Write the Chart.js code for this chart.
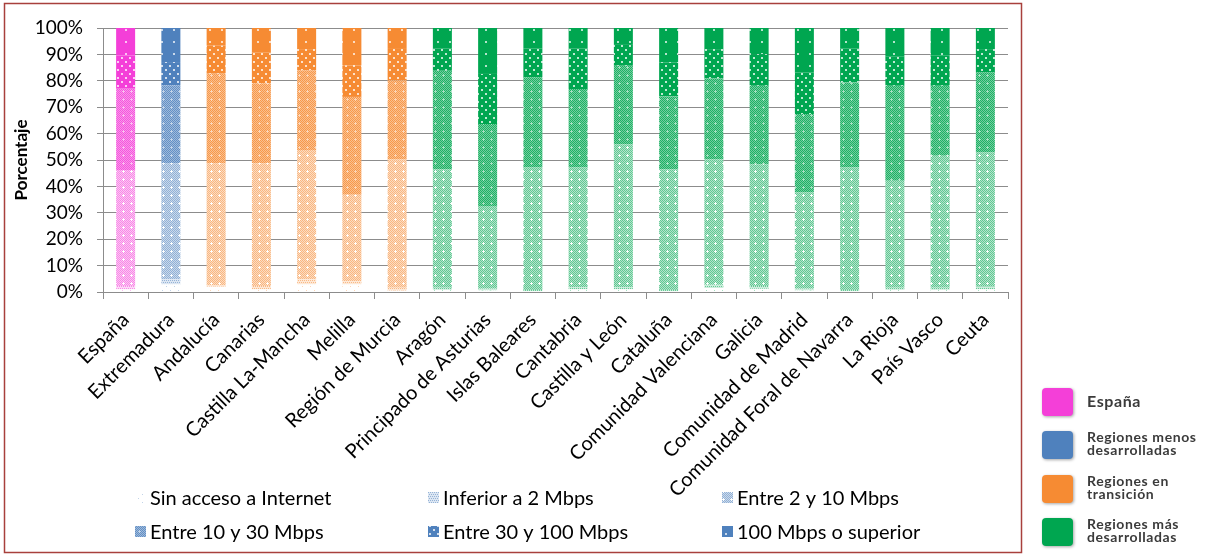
<!DOCTYPE html>
<html lang="es">
<head>
<meta charset="UTF-8">
<title>Velocidad de acceso a Internet por región</title>
<script src="https://cdn.jsdelivr.net/npm/chart.js"></script>
<style>
  html, body { margin: 0; padding: 0; background: #fff; }
  #wrap { position: relative; width: 1225px; height: 559px; }
</style>
</head>
<body>
<div id="wrap"><canvas id="chart" width="1225" height="559"></canvas></div>
<script>
  // categorías (eje X) y grupo de región de cada una
  const categories = ['España', 'Extremadura', 'Andalucía', 'Canarias', 'Castilla La-Mancha', 'Melilla',
    'Región de Murcia', 'Aragón', 'Principado de Asturias', 'Islas Baleares', 'Cantabria', 'Castilla y León',
    'Cataluña', 'Comunidad Valenciana', 'Galicia', 'Comunidad de Madrid', 'Comunidad Foral de Navarra',
    'La Rioja', 'País Vasco', 'Ceuta'];
  const regionGroup = ['es', 'menos', 'trans', 'trans', 'trans', 'trans', 'trans', 'mas', 'mas', 'mas',
    'mas', 'mas', 'mas', 'mas', 'mas', 'mas', 'mas', 'mas', 'mas', 'mas'];

  // porcentajes (de abajo a arriba en cada barra)
  const sinAcceso   = [1.0, 2.9, 2.0, 1.0, 2.9, 2.9, 0.5, 0.8, 0.6, 0.3, 1.0, 1.0, 0.3, 1.5, 1.2, 0.6, 0.3, 0.8, 0.8, 1.0];
  const inferior2   = [1.3, 1.9, 0.5, 1.3, 1.9, 1.2, 1.1, 0.8, 0.7, 0.5, 0.9, 0.9, 0.5, 1.2, 1.1, 0.7, 0.5, 0.8, 0.8, 1.0];
  const entre2y10   = [43.9, 43.9, 46.2, 46.4, 49.0, 32.7, 48.6, 44.9, 31.3, 46.4, 45.3, 54.1, 45.7, 47.6, 46.1, 36.4, 46.4, 40.5, 50.0, 50.8];
  const entre10y30  = [30.8, 29.6, 34.0, 30.4, 30.2, 37.1, 30.0, 37.3, 31.0, 34.1, 29.7, 29.7, 27.6, 30.6, 29.7, 29.7, 32.2, 36.0, 26.5, 30.4];
  const entre30y100 = [12.6, 8.8, 10.6, 11.7, 8.0, 11.9, 12.2, 8.5, 19.0, 11.0, 15.4, 8.2, 12.9, 11.1, 12.0, 15.8, 12.9, 11.2, 11.4, 8.8];
  const superior100 = [10.4, 12.9, 6.7, 9.2, 8.0, 14.2, 7.6, 7.7, 17.4, 7.7, 7.7, 6.1, 13.0, 8.0, 9.9, 16.8, 7.7, 10.7, 10.5, 8.0];

  const seriesLabels = ['Sin acceso a Internet', 'Inferior a 2 Mbps', 'Entre 2 y 10 Mbps',
    'Entre 10 y 30 Mbps', 'Entre 30 y 100 Mbps', '100 Mbps o superior'];
  const yTicks = [0, 10, 20, 30, 40, 50, 60, 70, 80, 90, 100];

  const groupColors = { es: '#F43FD8', menos: '#4F81BD', trans: '#F68B33', mas: '#00A650' };
  const groupLabels = [['España'], ['Regiones menos', 'desarrolladas'], ['Regiones en', 'transición'], ['Regiones más', 'desarrolladas']];

  const canvas = document.getElementById('chart');
  const ctx = canvas.getContext('2d');

  // mezcla un color con blanco: f = parte de color
  function tint(hex, f) {
    const n = parseInt(hex.slice(1), 16);
    const m = c => Math.round(255 - (255 - c) * f);
    return `rgb(${m(n >> 16 & 255)},${m(n >> 8 & 255)},${m(n & 255)})`;
  }

  // texturas tipo Excel para cada serie
  function makePattern(hex, kind) {
    const t = document.createElement('canvas');
    const size = kind === 5 ? 12 : 8;
    t.width = t.height = size;
    const g = t.getContext('2d');
    if (kind === 0) {
      g.fillStyle = '#fff'; g.fillRect(0, 0, size, size);
      g.fillStyle = tint(hex, 0.35); g.fillRect(2, 2, 1, 1); g.fillRect(6, 6, 1, 1);
    } else if (kind === 1) {
      g.fillStyle = tint(hex, 0.2); g.fillRect(0, 0, size, size);
      g.fillStyle = tint(hex, 0.6);
      for (let y = 0; y < size; y += 2) for (let x = (y / 2) % 2; x < size; x += 2) g.fillRect(x, y, 1, 1);
    } else if (kind === 2 || kind === 3) {
      const dark = kind === 2 ? 0.62 : 0.88, light = kind === 2 ? 0.3 : 0.55;
      g.fillStyle = tint(hex, light); g.fillRect(0, 0, size, size);
      g.fillStyle = tint(hex, dark);
      for (let y = 0; y < size; y++) for (let x = y % 2; x < size; x += 2) g.fillRect(x, y, 1, 1);
      g.fillStyle = kind === 2 ? 'rgba(255,255,255,0.9)' : tint(hex, 0.35);
      g.fillRect(3, 2, 1, 3); g.fillRect(2, 3, 3, 1);
    } else if (kind === 4) {
      g.fillStyle = hex; g.fillRect(0, 0, size, size);
      g.fillStyle = 'rgba(255,255,255,0.75)';
      g.fillRect(1, 1, 2, 2); g.fillRect(5, 5, 2, 2);
    } else {
      g.fillStyle = hex; g.fillRect(0, 0, size, size);
      g.fillStyle = 'rgba(255,255,255,0.7)';
      g.fillRect(5, 5, 2, 2);
    }
    return ctx.createPattern(t, 'repeat');
  }

  const seriesValues = [sinAcceso, inferior2, entre2y10, entre10y30, entre30y100, superior100];
  const datasets = seriesValues.map((vals, k) => ({
    label: seriesLabels[k],
    data: vals,
    backgroundColor: regionGroup.map(gname => makePattern(groupColors[gname], k)),
    borderWidth: 0,
    barPercentage: 0.42,
    categoryPercentage: 1
  }));
  const legendPatterns = seriesLabels.map((_, k) => makePattern(groupColors.menos, k));

  const extras = {
    id: 'extras',
    afterDraw(chart) {
      const c = chart.ctx;
      c.save();
      // marco del gráfico
      c.strokeStyle = '#A8403C';
      c.lineWidth = 1.5;
      c.strokeRect(4.5, 3.5, 1017, 549);

      // leyenda inferior (3 columnas x 2 filas)
      c.font = '20px Lato';
      c.textBaseline = 'middle';
      const cols = [150, 443, 737], rows = [498, 532];
      seriesLabels.forEach((lab, k) => {
        const x = cols[k % 3], y = rows[Math.floor(k / 3)];
        c.fillStyle = legendPatterns[k];
        c.fillRect(x - 15, y - 6, 11, 11);
        c.fillStyle = '#000';
        c.textAlign = 'left';
        c.fillText(lab, x, y + 1);
      });

      // leyenda de regiones (fuera del marco)
      c.filter = 'blur(0.6px)';
      c.letterSpacing = '0.6px';
      const keys = ['es', 'menos', 'trans', 'mas'];
      const tops = [388, 431, 475, 518];
      keys.forEach((kname, i) => {
        c.shadowColor = 'rgba(0,0,0,0.35)';
        c.shadowBlur = 3;
        c.shadowOffsetX = 1; c.shadowOffsetY = 1;
        c.fillStyle = groupColors[kname];
        c.beginPath();
        c.roundRect(1042, tops[i], 31, 28, 4);
        c.fill();
        c.shadowColor = 'transparent';
        c.fillStyle = '#3b3b3b';
        c.font = 'bold ' + (i === 0 ? 16 : 14) + 'px Lato';
        const lines = groupLabels[i];
        lines.forEach((ln, j) => {
          const yy = lines.length === 1 ? tops[i] + 14 : tops[i] + 6 + j * 13;
          c.fillText(ln, 1087, yy);
        });
      });
      c.restore();
    }
  };

  Chart.defaults.font.family = 'Lato';
  Chart.defaults.color = '#000';

  new Chart(ctx, {
    type: 'bar',
    data: { labels: categories, datasets },
    options: {
      responsive: false,
      animation: false,
      layout: { padding: { left: 6, right: 217, top: 28, bottom: 20 } },
      plugins: { legend: { display: false }, tooltip: { enabled: false } },
      scales: {
        x: {
          stacked: true,
          grid: { display: true, drawOnChartArea: false, drawTicks: true, tickLength: 7, color: '#8c8c8c' },
          border: { color: '#8c8c8c', width: 1 },
          ticks: { font: { size: 20 }, maxRotation: 45, minRotation: 45, padding: 9, autoSkip: false },
          afterFit: s => { s.height = 559 - 20 - 292; }
        },
        y: {
          stacked: true,
          min: 0, max: 100,
          afterBuildTicks: s => { s.ticks = yTicks.map(v => ({ value: v })); },
          grid: { color: '#8c8c8c', lineWidth: 1, tickLength: 6 },
          border: { color: '#8c8c8c', width: 1 },
          ticks: { font: { size: 19 }, padding: 14, callback: v => v + '%' },
          title: { display: true, text: 'Porcentaje', font: { size: 17, weight: 'bold' }, padding: { top: 5, bottom: 0 } },
          afterFit: s => { s.width = 97; }
        }
      }
    },
    plugins: [extras]
  });
</script>
</body>
</html>
